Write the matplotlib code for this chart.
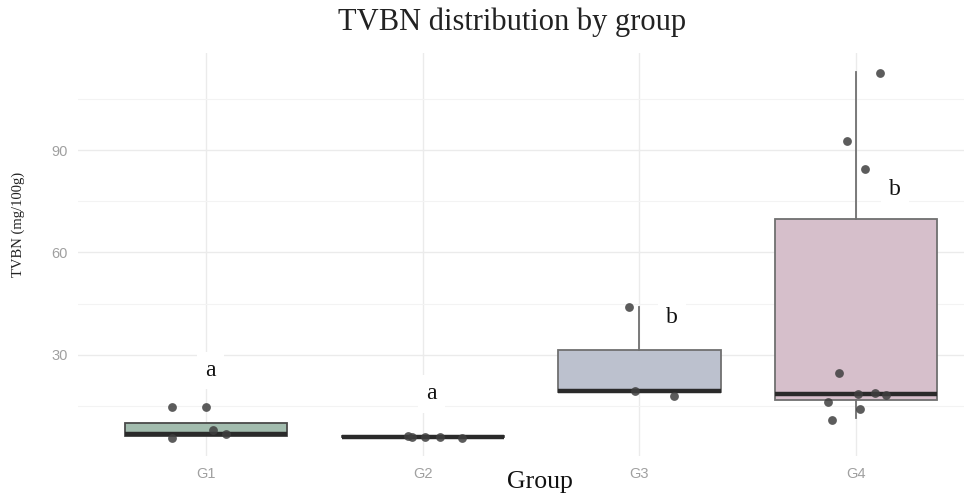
import numpy as np
import matplotlib.pyplot as plt

# group names and box stats (mg/100g)
groups = ['G1', 'G2', 'G3', 'G4']
q1 = [6.2, 5.8, 19.1, 16.8]
med = [6.8, 5.9, 19.2, 18.5]
q3 = [9.8, 6.0, 31.5, 69.7]
whislo = [6.2, 5.8, 19.1, 11.5]
whishi = [9.8, 6.0, 44.0, 113.0]
box_colors = ['#a2bcae', '#b0b0b0', '#bcc1ce', '#d6bfcb']
edge_colors = ['#4a4a4a', '#4a4a4a', '#707070', '#707070']

# jittered points: group position offsets and values
pt_x = [-0.16, 0.0, -0.16, 0.03, 0.09,
        -0.07, -0.05, 0.01, 0.08, 0.18,
        -0.05, -0.02, 0.16,
        0.11, -0.04, 0.04, -0.08, -0.13, 0.01, 0.09, 0.14, -0.11, 0.02]
pt_g = [1, 1, 1, 1, 1,
        2, 2, 2, 2, 2,
        3, 3, 3,
        4, 4, 4, 4, 4, 4, 4, 4, 4, 4]
pt_y = [14.7, 14.7, 5.6, 7.9, 6.8,
        6.0, 5.8, 5.8, 5.8, 5.6,
        44.1, 19.4, 17.9,
        112.6, 92.6, 84.4, 24.7, 16.2, 18.5, 18.8, 18.2, 10.9, 14.1]

# significance letters
letters = ['a', 'a', 'b', 'b']
letter_x = [1.02, 1.04, 1.15, 1.18]
letter_y = [25.3, 18.5, 40.9, 78.5]

fig = plt.figure(figsize=(9.69, 4.96), dpi=100)
ax = fig.add_axes([0.081, 0.081, 0.914, 0.812])

stats = []
for i in range(len(groups)):
    stats.append({'q1': q1[i], 'med': med[i], 'q3': q3[i],
                  'whislo': whislo[i], 'whishi': whishi[i], 'fliers': []})
bp = ax.bxp(stats, positions=[1, 2, 3, 4], widths=0.75, patch_artist=True,
            showcaps=False,
            boxprops=dict(linewidth=1.3),
            whiskerprops=dict(color='#707070', linewidth=1.3),
            medianprops=dict(color='#2a2a2a', linewidth=3.2))
for patch, c, e in zip(bp['boxes'], box_colors, edge_colors):
    patch.set_facecolor(c)
    patch.set_edgecolor(e)

ax.scatter(np.array(pt_g) + np.array(pt_x), pt_y, s=40, color='#3f3f3f',
           alpha=0.85, zorder=3, linewidths=0)

for i in range(len(letters)):
    ax.text(letter_x[i] + i, letter_y[i], letters[i], family='Liberation Serif',
            fontsize=17, ha='center', va='center', zorder=4, color='#111111',
            bbox=dict(facecolor='white', edgecolor='none', pad=6))

ax.set_xlim(0.41, 4.5)
ax.set_ylim(0.3, 118.5)
ax.set_xticks([1, 2, 3, 4], groups)
ax.set_yticks([30, 60, 90])
ax.set_yticks([15, 45, 75, 105], minor=True)
ax.grid(True, which='major', color='#ebebeb', linewidth=1)
ax.grid(True, which='minor', axis='y', color='#f3f3f3', linewidth=0.8)
ax.set_axisbelow(True)
for s in ax.spines.values():
    s.set_visible(False)
ax.tick_params(which='both', length=0, labelsize=10.5, labelcolor='#a0a0a0',
               pad=8)
for lab in ax.get_xticklabels() + ax.get_yticklabels():
    lab.set_family('Liberation Sans')

fig.text(0.528, 0.955, 'TVBN distribution by group', family='Liberation Serif',
         fontsize=22, ha='center', va='center', color='#222222')
fig.text(0.557, 0.028, 'Group', family='Liberation Serif', fontsize=18.5,
         ha='center', va='center', color='#111111')
fig.text(0.019, 0.548, 'TVBN (mg/100g)', family='Liberation Serif',
         fontsize=10.5, rotation=90, ha='center', va='center', color='#222222')

fig.savefig('out.png', dpi=100)
